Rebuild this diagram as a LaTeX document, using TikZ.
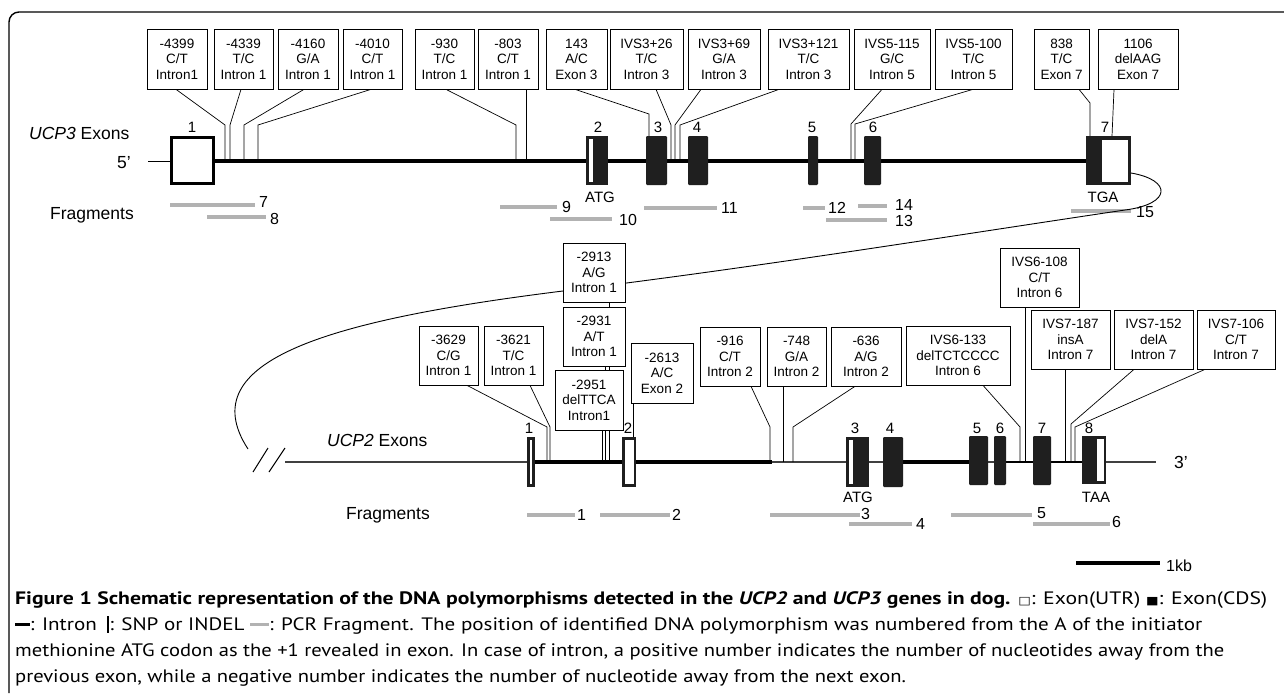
\documentclass[tikz,border=0pt]{standalone}
\usepackage{fontspec}
\setmainfont{Liberation Sans}
\newfontfamily\capfont{PT Sans}
\newfontfamily\symfont{DejaVu Sans}
\usepackage{graphicx}
\usetikzlibrary{calc}
\newsavebox\capbox
\newlength\caplen
\newcommand\capfit[2]{\sbox\capbox{\capfont\fontsize{18}{22}\selectfont #2}\setlength\caplen{\wd\capbox}\pgfmathsetmacro\capr{#1/\caplen}\global\let\caplast\capr\scalebox{\capr}[1]{\usebox\capbox}}
\begin{document}
\begin{tikzpicture}[x=1pt,y=-1pt,
  snp/.style={draw, fill=white, line width=0.7pt, align=center, inner sep=0pt, minimum height=60, font=\fontsize{13.5}{15.5}\selectfont},
  lead/.style={line width=0.7pt},
  frag/.style={line width=3.6pt, draw=black!30},
  fnum/.style={anchor=west, inner sep=0pt, font=\fontsize{16}{16}\selectfont},
  exnum/.style={inner sep=0pt, font=\fontsize{15}{15}\selectfont},
  lbl/.style={inner sep=0pt, font=\fontsize{17.5}{17.5}\selectfont},
  cds/.style={fill=black!88, rounded corners=1.2pt},
  capline/.style={anchor=base west, inner sep=0pt}
]
\useasboundingbox (0,0) rectangle (1284,693);
\fill[white] (0,0) rectangle (1284,693);
% frame
\draw[line width=1.4pt, rounded corners=10pt] (1284,12) -- (9,12) -- (9,693);

% ================= UCP3 =================
\node[lbl, anchor=west] (u3name) at (29,133) {\textit{UCP3} Exons};
\node[lbl] (u3five) at (124,163) {5'};
\coordinate (u3a) at (148,161);
\coordinate (u3b) at (170,161);
\coordinate (u3c) at (215,161);
\coordinate (u3d) at (1086,161);
\draw[line width=1pt] (u3a) -- (u3b);
\draw[line width=3.6pt] (u3c) -- (u3d);

% leader end points on backbone / exons
\foreach \n/\x in {1/225,2/230,3/244,4/258,5/516,6/526,8/671,9/675,10/680,11/851,12/855}
  \coordinate (k\n) at (\x,161);
\coordinate (k7) at (649,136);
\coordinate (k13) at (1090,136);
\coordinate (k14) at (1112,136);

% top boxes
\node[snp, minimum width=60] (t1) at (177,59) {-4399\\C/T\\Intron1};
\node[snp, minimum width=59] (t2) at (243.5,59) {-4339\\T/C\\Intron 1};
\node[snp, minimum width=60] (t3) at (308,59) {-4160\\G/A\\Intron 1};
\node[snp, minimum width=59] (t4) at (372.5,59) {-4010\\C/T\\Intron 1};
\node[snp, minimum width=59] (t5) at (444.5,59) {-930\\T/C\\Intron 1};
\node[snp, minimum width=60] (t6) at (508,59) {-803\\C/T\\Intron 1};
\node[snp, minimum width=61] (t7) at (576.5,59) {143\\A/C\\Exon 3};
\node[snp, minimum width=73] (t8) at (646.5,59) {IVS3+26\\T/C\\Intron 3};
\node[snp, minimum width=72] (t9) at (724,59) {IVS3+69\\G/A\\Intron 3};
\node[snp, minimum width=81] (t10) at (808.5,59) {IVS3+121\\T/C\\Intron 3};
\node[snp, minimum width=76] (t11) at (892,59) {IVS5-115\\G/C\\Intron 5};
\node[snp, minimum width=77] (t12) at (973.5,59) {IVS5-100\\T/C\\Intron 5};
\node[snp, minimum width=55] (t13) at (1061.5,59) {838\\T/C\\Exon 7};
\node[snp, minimum width=80] (t14) at (1138,59) {1106\\delAAG\\Exon 7};

% top leaders
\draw[lead] ([xshift=-1]t1.south) -- (225,125) -- (k1);
\draw[lead] ([xshift=-2.5]t2.south) -- (230,125) -- (k2);
\draw[lead] ([xshift=-4]t3.south) -- (244,125) -- (k3);
\draw[lead] ([xshift=-1.5]t4.south) -- (258,125) -- (k4);
\draw[lead] ([xshift=1.5]t5.south) -- (516,125) -- (k5);
\draw[lead] ([xshift=18]t6.south) -- (k6);
\draw[lead] ([xshift=-1.5]t7.south) -- (649,114) -- (k7);
\draw[lead] ([xshift=9.5]t8.south) -- (671,125) -- (k8);
\draw[lead] ([xshift=-23]t9.south) -- (675,125) -- (k9);
\draw[lead] ([xshift=-29.5]t10.south) -- (680,125) -- (k10);
\draw[lead] ([xshift=-10]t11.south) -- (851,124) -- (k11);
\draw[lead] ([xshift=-0.5]t12.south) -- (855,124) -- (k12);
\draw[lead] ([xshift=17.5]t13.south) -- (1090,103) -- (k13);
\draw[lead] ([xshift=-24]t14.south) -- (k14);

% UCP3 exons
\draw[line width=3pt, fill=white] (171.5,137.5) rectangle (213.5,183.5);
\fill[black!88] (586,136) rectangle (608,185);
\fill[white] (588.5,139) rectangle (592.5,182);
\fill[cds] (646,136) rectangle (667,185);
\fill[cds] (688,136) rectangle (708,185);
\fill[cds] (808,136) rectangle (818,185);
\fill[cds] (864,136) rectangle (881,185);
\fill[black!88] (1086,136) rectangle (1131,185);
\fill[white] (1101.5,139.5) rectangle (1128,181.5);

\node[exnum] (x31) at (192,127) {1};
\node[exnum] (x32) at (598,127) {2};
\node[exnum] (x33) at (658,127) {3};
\node[exnum] (x34) at (697,127) {4};
\node[exnum] (x35) at (812,127) {5};
\node[exnum] (x36) at (873,127) {6};
\node[exnum] (x37) at (1105,127) {7};
\node[exnum] (atg3) at (600,197) {ATG};
\node[exnum] (tga3) at (1103,197) {TGA};

% UCP3 fragments
\node[lbl] (frag3) at (92,215) {Fragments};
\draw[frag] (170,205) -- (255,205); \node[fnum] (f7) at (259,202) {7};
\draw[frag] (207,217) -- (266,217); \node[fnum] (f8) at (270,219) {8};
\draw[frag] (500,207) -- (557,207); \node[fnum] (f9) at (562,207) {9};
\draw[frag] (550,219) -- (612,219); \node[fnum] (f10) at (619,220) {10};
\draw[frag] (644,208) -- (717,208); \node[fnum] (f11) at (721,208) {11};
\draw[frag] (803,208) -- (825,208); \node[fnum] (f12) at (828,208) {12};
\draw[frag] (858,206) -- (887,206); \node[fnum] (f14) at (895,205) {14};
\draw[frag] (826,220) -- (887,220); \node[fnum] (f13) at (895,221) {13};
\draw[frag] (1071,211) -- (1131,211); \node[fnum] (f15) at (1136,212) {15};

% ================= link curve =================
\coordinate (cstart) at (1131,173);
\coordinate (cend) at (248,449);
\draw[line width=0.9pt] (cstart) .. controls (1172,180) and (1172,204) .. (1125,210)
   .. controls (950,236) and (760,267) .. (563,291)
   .. controls (330,320) and (190,360) .. (cend);

% ================= UCP2 =================
\node[lbl, anchor=west] (u2name) at (327,440) {\textit{UCP2} Exons};
\node[lbl] (u2three) at (1181,462) {3'};
\draw[line width=1pt] (253,472) -- (268,448);
\draw[line width=1pt] (269,472) -- (285,448);
\coordinate (u2a) at (285,462);
\coordinate (u2b) at (1156,462);
\draw[line width=1.3pt, black!75] (u2a) -- (u2b);
\draw[line width=3.4pt] (534,462) -- (772,462);
\draw[line width=3.4pt] (903,462) -- (969,462);
\draw[line width=2.4pt] (1006,462) -- (1033,462);
\draw[line width=2pt] (1051,462) -- (1082,462);

% leader end points
\foreach \n/\x in {e/547,f/550,a/609,b/605,c/602,g/770,h/783,i/793,j/1020,k/1025,l/1065,m/1071,n/1075}
  \coordinate (q\n) at (\x,462);
\coordinate (qd) at (633,437);

% UCP2 boxes
\node[snp, minimum width=62, minimum height=59] (a) at (594,272.5) {-2913\\A/G\\Intron 1};
\node[snp, minimum width=62, minimum height=59] (b) at (594,336.5) {-2931\\A/T\\Intron 1};
\node[snp, minimum width=68] (c) at (589,400) {-2951\\delTTCA\\Intron1};
\node[snp, minimum width=62] (d) at (662,373) {-2613\\A/C\\Exon 2};
\node[snp, minimum width=59, minimum height=59] (e) at (448.5,355.5) {-3629\\C/G\\Intron 1};
\node[snp, minimum width=59, minimum height=59] (f) at (513.5,355.5) {-3621\\T/C\\Intron 1};
\node[snp, minimum width=60, minimum height=59] (g) at (730,356.5) {-916\\C/T\\Intron 2};
\node[snp, minimum width=59, minimum height=59] (h) at (796.5,356.5) {-748\\G/A\\Intron 2};
\node[snp, minimum width=70, minimum height=59] (i) at (866,356.5) {-636\\A/G\\Intron 2};
\node[snp, minimum width=104, minimum height=59] (j) at (958,355.5) {IVS6-133\\delTCTCCCC\\Intron 6};
\node[snp, minimum width=79, minimum height=59] (k) at (1039.5,277.5) {IVS6-108\\C/T\\Intron 6};
\node[snp, minimum width=79, minimum height=59] (l) at (1070.5,339.5) {IVS7-187\\insA\\Intron 7};
\node[snp, minimum width=79, minimum height=59] (m) at (1153.5,339.5) {IVS7-152\\delA\\Intron 7};
\node[snp, minimum width=78, minimum height=59] (n) at (1236,339.5) {IVS7-106\\C/T\\Intron 7};

% UCP2 leaders
\draw[lead] (a.south -| qa) -- (b.north -| qa);
\draw[lead] (b.south -| qa) -- (c.north -| qa);
\draw[lead] (b.south -| qb) -- (c.north -| qb);
\draw[lead] (c.south -| qa) -- (qa);
\draw[lead] (c.south -| qb) -- (qb);
\draw[lead] (c.south -| qc) -- (qc);
\draw[lead] (d.south -| qd) -- (qd);
\draw[lead] ([xshift=18.5]e.south) -- (547,427) -- (qe);
\draw[lead] ([xshift=16.5]f.south) -- (550,427) -- (qf);
\draw[lead] ([xshift=21]g.south) -- (770,427) -- (qg);
\draw[lead] ([xshift=-13.5]h.south) -- (qh);
\draw[lead] ([xshift=-11]i.south) -- (793,427) -- (qi);
\draw[lead] ([xshift=25]j.south) -- (1020,427) -- (qj);
\draw[lead] ([xshift=-14.5]k.south) -- (qk);
\draw[lead] ([xshift=-5.5]l.south) -- (ql);
\draw[lead] ([xshift=-19.5]m.south) -- (1071,424) -- (qm);
\draw[lead] ([xshift=-31]n.south) -- (1075,427) -- (qn);

% UCP2 exons
\fill[black!88] (527,437) rectangle (534.5,487);
\fill[white] (529.5,440) rectangle (532,484);
\fill[black!88] (622,437) rectangle (636,487);
\fill[white] (624.5,440) rectangle (633.5,484);
\fill[black!88] (846,437) rectangle (869,487);
\fill[white] (848.5,440) rectangle (853,484);
\fill[cds] (883,437) rectangle (903,487);
\fill[cds] (969,436) rectangle (988,485);
\fill[cds] (994,436) rectangle (1006,485);
\fill[cds] (1033,436) rectangle (1051,485);
\fill[black!88] (1082,436) rectangle (1106,484);
\fill[white] (1097,439) rectangle (1103.5,481);

\node[exnum] (x21) at (529,428) {1};
\node[exnum] (x22) at (628,428) {2};
\node[exnum] (x23) at (855,428) {3};
\node[exnum] (x24) at (890,428) {4};
\node[exnum] (x25) at (977,428) {5};
\node[exnum] (x26) at (1000,428) {6};
\node[exnum] (x27) at (1042,428) {7};
\node[exnum] (x28) at (1089,428) {8};
\node[exnum] (atg2) at (858,497) {ATG};
\node[exnum] (taa2) at (1096,497) {TAA};

% UCP2 fragments
\node[lbl] (frag2) at (388,515) {Fragments};
\draw[frag] (527,515) -- (575,515); \node[fnum] (g1) at (577,515) {1};
\draw[frag] (600,515) -- (670,515); \node[fnum] (g2) at (672,515) {2};
\draw[frag] (770,515) -- (860,515); \node[fnum] (g3) at (861,514) {3};
\draw[frag] (849,524) -- (912,524); \node[fnum] (g4) at (916,524) {4};
\draw[frag] (951,515) -- (1032,515); \node[fnum] (g5) at (1037,513) {5};
\draw[frag] (1033,524) -- (1110,524); \node[fnum] (g6) at (1112,522) {6};

% scale bar
\coordinate (sb1) at (1076,563);
\coordinate (sb2) at (1160,563);
\draw[line width=4pt] (sb1) -- (sb2);
\node[fnum] (kb) at (1166,566) {1kb};

% ================= caption =================
\node[capline] (cap1) at (15,604) {\capfit{1252}{\textbf{Figure 1 Schematic representation of the DNA polymorphisms detected in the \textit{UCP2} and \textit{UCP3} genes in dog.} {\symfont\fontsize{11}{11}\selectfont □}: Exon(UTR) {\symfont\fontsize{11}{11}\selectfont ■}: Exon(CDS)}};
\node[capline] (cap2) at (15,630) {\capfit{1187}{\rule[0.22em]{0.7em}{0.18em}: Intron\enspace\rule[-0.15em]{0.09em}{0.95em}: SNP or INDEL {\color{black!30}\rule[0.22em]{0.9em}{0.18em}}: PCR Fragment. The position of identified DNA polymorphism was numbered from the A of the initiator}};
\node[capline] (cap3) at (15,656) {\capfit{1209}{methionine ATG codon as the +1 revealed in exon. In case of intron, a positive number indicates the number of nucleotides away from the}};
\node[capline] (cap4) at (15,682) {\scalebox{\caplast}[1]{\capfont\fontsize{18}{22}\selectfont previous exon, while a negative number indicates the number of nucleotide away from the next exon.}};
\end{tikzpicture}
\end{document}
